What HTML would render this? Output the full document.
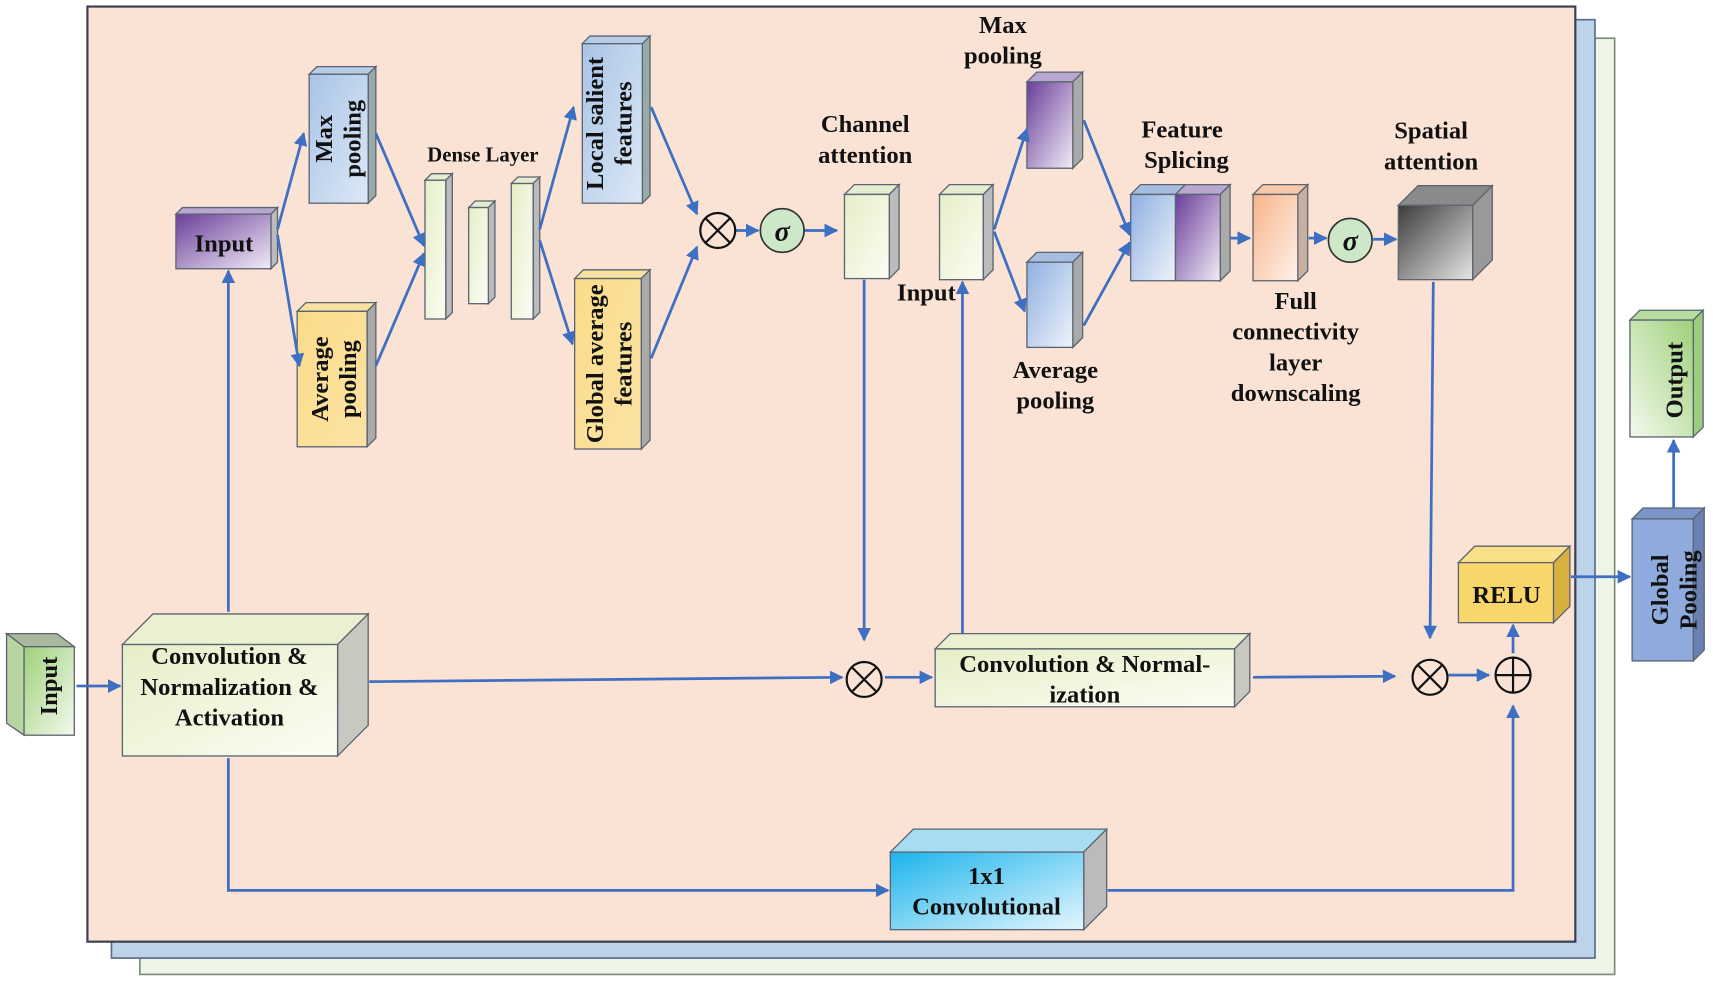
<!DOCTYPE html>
<html><head><meta charset="utf-8"><style>
html,body{margin:0;padding:0;background:#fff;}
svg{display:block;}
text{font-family:"Liberation Serif",serif;font-weight:bold;fill:#111;}
</style></head><body>
<svg width="1713" height="981" viewBox="0 0 1568 898" xmlns="http://www.w3.org/2000/svg">
<defs>
<marker id="ar" viewBox="0 0 10 10" refX="9" refY="5" markerWidth="5" markerHeight="5" orient="auto"><path d="M0,0L10,5L0,10z" fill="#3d6fc2"/></marker>
<linearGradient id="gGreen" x1="0" y1="0" x2="1" y2="1"><stop offset="0" stop-color="#9fd07a"/><stop offset="1" stop-color="#f4faef"/></linearGradient>
<linearGradient id="gGreenR" x1="1" y1="0" x2="0" y2="1"><stop offset="0" stop-color="#9fd07a"/><stop offset="1" stop-color="#f4faef"/></linearGradient>
<linearGradient id="gLt" x1="0" y1="0" x2="1" y2="1"><stop offset="0" stop-color="#e6eec8"/><stop offset="1" stop-color="#fbfdf3"/></linearGradient>
<linearGradient id="gPur" x1="0" y1="0" x2="1" y2="1"><stop offset="0" stop-color="#6a3f9a"/><stop offset="1" stop-color="#f2ecf7"/></linearGradient>
<linearGradient id="gBlue" x1="0" y1="0" x2="1" y2="1"><stop offset="0" stop-color="#a9c4e6"/><stop offset="1" stop-color="#dce8f6"/></linearGradient>
<linearGradient id="gBlue2" x1="0" y1="0" x2="1" y2="1"><stop offset="0" stop-color="#8fb0e0"/><stop offset="1" stop-color="#eef3fb"/></linearGradient>
<linearGradient id="gYel" x1="0" y1="0" x2="1" y2="1"><stop offset="0" stop-color="#fbdc8a"/><stop offset="1" stop-color="#fbe3a4"/></linearGradient>
<linearGradient id="gOr" x1="0" y1="0" x2="1" y2="1"><stop offset="0" stop-color="#f8b48a"/><stop offset="1" stop-color="#fdf2ea"/></linearGradient>
<linearGradient id="gGray" x1="0" y1="0" x2="1" y2="1"><stop offset="0" stop-color="#3c3c3c"/><stop offset="1" stop-color="#e6e6e6"/></linearGradient>
<linearGradient id="gCyan" x1="0" y1="0" x2="1" y2="1"><stop offset="0" stop-color="#1cb4ec"/><stop offset="1" stop-color="#e4f6fd"/></linearGradient>
</defs>
<rect x="128" y="35" width="1350" height="857" fill="#eef5e6" stroke="#7a8a7a" stroke-width="1.5"/>
<rect x="102" y="18" width="1358" height="859" fill="#bcd3ea" stroke="#5a6a8a" stroke-width="1.5"/>
<rect x="80" y="6" width="1362" height="856" fill="#fae2d5" stroke="#3a4050" stroke-width="2"/>

<g stroke="#5b6470" stroke-width="1.2">
<polygon points="6,580 22,592 22,673 6,662" fill="#b8d4a0"/>
<polygon points="6,580 52,580 68,592 22,592" fill="#aab8a0"/>
<rect x="22" y="592" width="46" height="81" fill="url(#gGreen)"/>
<polygon points="112,590 140,562 337,562 309,590" fill="#eaf0d0"/>
<polygon points="309,590 337,562 337,664 309,692" fill="#c8c8c0"/>
<rect x="112" y="590" width="197" height="102" fill="url(#gLt)"/>
<polygon points="161,196 167,190 254,190 248,196" fill="#b8a8d0"/>
<polygon points="248,196 254,190 254,240 248,246" fill="#bbb"/>
<rect x="161" y="196" width="87" height="50" fill="url(#gPur)"/>
<polygon points="283,68 290,61 344,61 337,68" fill="#b8cce6"/>
<polygon points="337,68 344,61 344,179 337,186" fill="#9aa"/>
<rect x="283" y="68" width="54" height="118" fill="url(#gBlue)"/>
<polygon points="272,285 280,277 344,277 336,285" fill="#f8e0a0"/>
<polygon points="336,285 344,277 344,401 336,409" fill="#aaa"/>
<rect x="272" y="285" width="64" height="124" fill="url(#gYel)"/>
<polygon points="389,165 395,159 414,159 408,165" fill="#e6ecd0"/><polygon points="408,165 414,159 414,286 408,292" fill="#bbb"/><rect x="389" y="165" width="19" height="127" fill="url(#gLt)"/>
<polygon points="429,190 435,184 453,184 447,190" fill="#e6ecd0"/><polygon points="447,190 453,184 453,272 447,278" fill="#bbb"/><rect x="429" y="190" width="18" height="88" fill="url(#gLt)"/>
<polygon points="468,168 474,162 494,162 488,168" fill="#e6ecd0"/><polygon points="488,168 494,162 494,286 488,292" fill="#bbb"/><rect x="468" y="168" width="20" height="124" fill="url(#gLt)"/>
<polygon points="533,40 540,33 595,33 588,40" fill="#b8cce6"/><polygon points="588,40 595,33 595,179 588,186" fill="#9aa"/><rect x="533" y="40" width="55" height="146" fill="url(#gBlue)"/>
<polygon points="526,255 534,247 595,247 587,255" fill="#f8e0a0"/><polygon points="587,255 595,247 595,403 587,411" fill="#aaa"/><rect x="526" y="255" width="61" height="156" fill="url(#gYel)"/>
<polygon points="773,178 782,169 823,169 814,178" fill="#e6ecd0"/><polygon points="814,178 823,169 823,246 814,255" fill="#bbb"/><rect x="773" y="178" width="41" height="77" fill="url(#gLt)"/>
<polygon points="860,178 869,169 909,169 900,178" fill="#e6ecd0"/><polygon points="900,178 909,169 909,247 900,256" fill="#bbb"/><rect x="860" y="178" width="40" height="78" fill="url(#gLt)"/>
<polygon points="940,75 949,66 991,66 982,75" fill="#b8a8d0"/><polygon points="982,75 991,66 991,145 982,154" fill="#aaa"/><rect x="940" y="75" width="42" height="79" fill="url(#gPur)"/>
<polygon points="940,240 949,231 991,231 982,240" fill="#a8bce0"/><polygon points="982,240 991,231 991,309 982,318" fill="#aaa"/><rect x="940" y="240" width="42" height="78" fill="url(#gBlue2)"/>
<polygon points="1035,178 1044,169 1085,169 1076,178" fill="#a8bce0"/><rect x="1035" y="178" width="41" height="79" fill="url(#gBlue2)"/>
<polygon points="1076,178 1085,169 1126,169 1117,178" fill="#b8a8d0"/><polygon points="1117,178 1126,169 1126,248 1117,257" fill="#aaa"/><rect x="1076" y="178" width="41" height="79" fill="url(#gPur)"/>
<polygon points="1147,178 1156,169 1197,169 1188,178" fill="#f8c8a8"/><polygon points="1188,178 1197,169 1197,248 1188,257" fill="#c8b0a0"/><rect x="1147" y="178" width="41" height="79" fill="url(#gOr)"/>
<polygon points="1280,188 1298,170 1366,170 1348,188" fill="#8a8a8a"/><polygon points="1348,188 1366,170 1366,238 1348,256" fill="#999"/><rect x="1280" y="188" width="68" height="68" fill="url(#gGray)"/>
<polygon points="1335,515 1350,500 1437,500 1422,515" fill="#fbe08a"/><polygon points="1422,515 1437,500 1437,555 1422,570" fill="#d8b040"/><rect x="1335" y="515" width="87" height="55" fill="#f9d66a"/>
<polygon points="856,594 870,580 1144,580 1130,594" fill="#eaf0d0"/><polygon points="1130,594 1144,580 1144,633 1130,647" fill="#c8c8c0"/><rect x="856" y="594" width="274" height="53" fill="url(#gLt)"/>
<polygon points="815,780 836,759 1013,759 992,780" fill="#a8dcf0"/><polygon points="992,780 1013,759 1013,830 992,851" fill="#bbb"/><rect x="815" y="780" width="177" height="71" fill="url(#gCyan)"/>
<polygon points="1494,475 1504,465 1560,465 1550,475" fill="#7a96c8"/><polygon points="1550,475 1560,465 1560,595 1550,605" fill="#6a80b0"/><rect x="1494" y="475" width="56" height="130" fill="#8faadc"/>
<polygon points="1492,293 1501,284 1559,284 1550,293" fill="#b8dca0"/><polygon points="1550,293 1559,284 1559,391 1550,400" fill="#9ccc80"/><rect x="1492" y="293" width="58" height="107" fill="url(#gGreenR)"/>
</g>

<g stroke="#3d6fc2" stroke-width="2.5" fill="none" marker-end="url(#ar)">
<path d="M70,628H110"/>
<path d="M209,560V248"/>
<path d="M254,210L278,122"/><path d="M254,215L274,335"/>
<path d="M344,122L388,225"/><path d="M344,335L388,232"/>
<path d="M494,210L525,98"/><path d="M494,220L524,315"/>
<path d="M596,98L638,196"/><path d="M596,328L638,226"/>
<path d="M673,211H694"/><path d="M736,211H766"/>
<path d="M791,256V586"/>
<path d="M338,624L771,620"/>
<path d="M810,620H853"/>
<path d="M881,580V258"/>
<path d="M910,210L940,118"/><path d="M910,212L938,285"/>
<path d="M992,110L1034,215"/><path d="M992,298L1034,222"/>
<path d="M1126,218H1144"/><path d="M1198,218H1214"/><path d="M1257,219H1278"/>
<path d="M1312,258L1309,584"/>
<path d="M1147,620L1277,619"/>
<path d="M1326,618H1363"/>
<path d="M1385,598V572"/>
<path d="M209,694V815H813"/>
<path d="M1014,815H1385V646"/>
<path d="M1438,528H1492"/>
<path d="M1532,465V403"/>
</g>
<g stroke="#111" stroke-width="2" fill="none">
<circle cx="657" cy="211" r="16" fill="#fae2d5"/><path d="M646,200L668,222M668,200L646,222"/>
<circle cx="791" cy="622" r="16" fill="#fae2d5"/><path d="M780,611L802,633M802,611L780,633"/>
<circle cx="1309" cy="620" r="16" fill="#fae2d5"/><path d="M1298,609L1320,631M1320,609L1298,631"/>
<circle cx="1385" cy="618" r="16" fill="#fae2d5"/><path d="M1369,618H1401M1385,602V634"/>
</g>
<g stroke="#333" stroke-width="1.5" fill="#cde8c8">
<circle cx="716" cy="211" r="20"/><circle cx="1236" cy="220" r="20"/>
</g>
<text x="716" y="220" font-size="26" text-anchor="middle" font-style="italic">σ</text>
<text x="1236" y="229" font-size="26" text-anchor="middle" font-style="italic">σ</text>

<g font-size="22.5" text-anchor="middle">
<text x="205" y="230">Input</text>
<text x="210" y="608">Convolution &amp;</text>
<text x="210" y="636">Normalization &amp;</text>
<text x="210" y="664">Activation</text>
<text x="792" y="121">Channel</text>
<text x="792" y="149">attention</text>
<text x="918" y="30">Max</text>
<text x="918" y="58">pooling</text>
<text x="848" y="275">Input</text>
<text x="966" y="346">Average</text>
<text x="966" y="374">pooling</text>
<text x="1082" y="126" font-weight="normal">Feature</text>
<text x="1086" y="154" font-weight="normal">Splicing</text>
<text x="1310" y="127">Spatial</text>
<text x="1310" y="155">attention</text>
<text x="1186" y="283">Full</text>
<text x="1186" y="311">connectivity</text>
<text x="1186" y="339">layer</text>
<text x="1186" y="367">downscaling</text>
<text x="1379" y="552">RELU</text>
<text x="993" y="615">Convolution &amp; Normal-</text>
<text x="993" y="643">ization</text>
<text x="903" y="809">1x1</text>
<text x="903" y="837">Convolutional</text>
<text x="442" y="148" font-size="19" font-weight="normal">Dense Layer</text>
</g>
<g font-size="22.5" text-anchor="middle">
<text transform="translate(52,628) rotate(-90)">Input</text>
<text transform="translate(304,127) rotate(-90)">Max</text>
<text transform="translate(330,127) rotate(-90)">pooling</text>
<text transform="translate(300,347) rotate(-90)">Average</text>
<text transform="translate(326,347) rotate(-90)">pooling</text>
<text transform="translate(552,113) rotate(-90)">Local salient</text>
<text transform="translate(578,113) rotate(-90)">features</text>
<text transform="translate(552,333) rotate(-90)">Global average</text>
<text transform="translate(578,333) rotate(-90)">features</text>
<text transform="translate(1527,540) rotate(-90)">Global</text>
<text transform="translate(1553,540) rotate(-90)">Pooling</text>
<text transform="translate(1540,348) rotate(-90)">Output</text>
</g>
</svg>
</body></html>
